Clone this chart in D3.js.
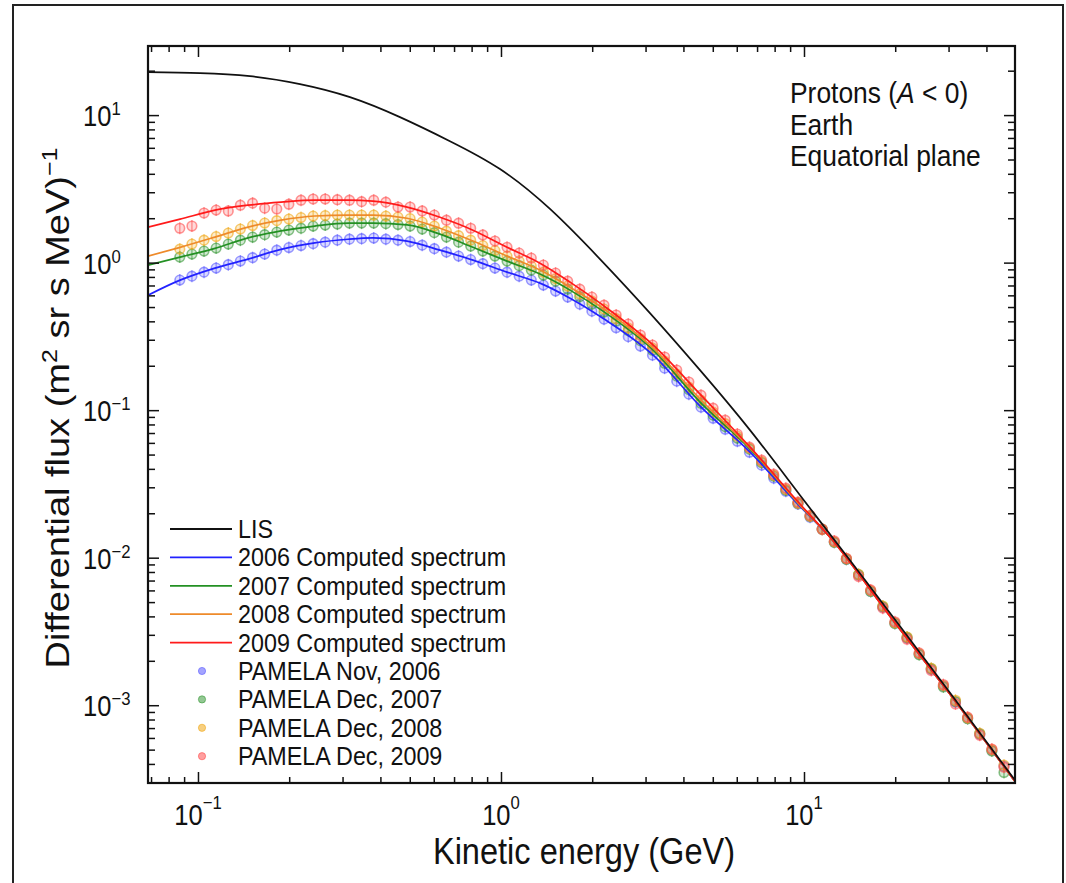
<!DOCTYPE html>
<html><head><meta charset="utf-8">
<script src="https://cdn.jsdelivr.net/npm/d3@7"></script>
<style>
body{margin:0;background:#fff}
svg{display:block}
text{font-family:"Liberation Sans",Arial,Helvetica,sans-serif;fill:#111}
</style></head><body>
<svg id="c" width="1066" height="883"></svg>
<script>
// ---------- data ----------
const lisEnergy = [0.0684,0.1015,0.1484,0.2171,0.3174,0.4641,0.6786,0.9924,1.451,2.122,3.102,4.537,6.634,9.701,14.18,20.74,30.33,49.7];
const lisFlux   = [19.56,19.26,18.38,16.23,13.24,9.69,6.66,4.31,2.31,1.056,0.4546,0.1867,0.0732,0.02652,0.009618,0.003432,0.001215,0.00031];

const specEnergy = [0.0684,0.0873,0.1138,0.1463,0.188,0.243,0.313,0.378,0.490,0.629,0.808,1.047,1.345,1.69,2.17,3.18,4.54,6.64,9.70,12.19,19.67,30.3,49.7];
const spec2006  = [0.602,0.761,0.918,1.056,1.23,1.36,1.44,1.47,1.40,1.215,1.04,0.862,0.726,0.574,0.420,0.236,0.1064,0.0519,0.0223,0.01377,0.00377,0.00119,0.000305];
const spec2007  = [0.962,1.09,1.25,1.47,1.64,1.77,1.85,1.85,1.80,1.56,1.27,1.024,0.836,0.651,0.469,0.255,0.1133,0.0544,0.0227,0.01377,0.00377,0.00119,0.000305];
const spec2008  = [1.107,1.27,1.49,1.74,1.94,2.07,2.10,2.10,2.00,1.71,1.40,1.107,0.89,0.682,0.491,0.263,0.1188,0.0552,0.0227,0.01377,0.00377,0.00119,0.000305];
const spec2009  = [1.74,1.97,2.27,2.45,2.57,2.65,2.65,2.61,2.38,2.03,1.66,1.27,0.992,0.738,0.515,0.276,0.1284,0.0561,0.0231,0.01377,0.00377,0.00119,0.000305];

const pamelaEnergy = [0.0871,0.0955,0.1047,0.1148,0.1259,0.1380,0.1514,0.1660,0.1820,0.1995,
 0.2188,0.2399,0.2630,0.2884,0.3162,0.3467,0.3802,0.4169,0.4571,0.5012,
 0.5495,0.6026,0.6607,0.7244,0.7943,0.8710,0.9550,1.047,1.148,1.259,
 1.380,1.514,1.660,1.820,1.995,2.188,2.399,2.630,2.884,3.162,
 3.467,3.802,4.169,4.571,5.012,5.495,6.026,6.607,7.244,7.943,
 8.710,9.550,10.47,11.48,12.59,13.80,15.14,16.60,18.20,19.95,
 21.88,23.99,26.30,28.84,31.62,34.67,38.02,41.69,45.71];
const pamela2006 = [0.761,0.810,0.862,0.918,0.969,1.024,1.081,1.142,1.215,1.264,
 1.304,1.345,1.377,1.420,1.443,1.454,1.466,1.443,1.420,1.388,
 1.314,1.244,1.178,1.107,1.048,0.984,0.918,0.862,0.810,0.761,
 0.704,0.641,0.584,0.523,0.469,0.414,0.362,0.315,0.272,0.236,
 0.1926,0.1573,0.1284,0.1048,0.0882,0.0743,0.0616,0.0519,0.0424,0.0346,
 0.0282,0.0231,0.0188,0.0156,0.01274,0.00977,0.00761,0.00593,0.00462,0.00360,
 0.00285,0.00222,0.00175,0.00135,0.00105,0.000816,0.000636,0.000495,0.000386];
const pamela2007 = [1.090,1.142,1.197,1.254,1.335,1.420,1.489,1.548,1.610,1.661,
 1.713,1.768,1.796,1.824,1.853,1.853,1.853,1.838,1.810,1.768,
 1.687,1.597,1.489,1.377,1.294,1.197,1.107,1.024,0.954,0.890,
 0.823,0.749,0.661,0.588,0.523,0.462,0.401,0.346,0.296,0.255,
 0.208,0.170,0.1377,0.1115,0.0925,0.0773,0.0646,0.0544,0.0441,0.0357,
 0.0287,0.0234,0.0191,0.0156,0.01270,0.00975,0.00768,0.00590,0.00466,0.00358,
 0.00288,0.00220,0.00177,0.00133,0.00106,0.000810,0.000640,0.000490,0.000350];
const pamela2008 = [1.234,1.335,1.420,1.501,1.585,1.687,1.782,1.853,1.926,1.972,
 2.019,2.067,2.083,2.099,2.099,2.099,2.099,2.067,2.035,1.988,
 1.882,1.768,1.635,1.524,1.420,1.304,1.206,1.107,1.024,0.947,
 0.862,0.779,0.693,0.612,0.548,0.484,0.417,0.360,0.305,0.263,
 0.215,0.1754,0.1432,0.1169,0.0969,0.0810,0.0666,0.0553,0.0448,0.0362,
 0.0291,0.0234,0.0191,0.0156,0.01280,0.00985,0.00770,0.00598,0.00470,0.00362,
 0.00290,0.00224,0.00178,0.00136,0.00108,0.000820,0.000645,0.000500,0.000392];
const pamela2009 = [1.71,1.77,2.17,2.27,2.24,2.45,2.53,2.34,2.31,2.49,
 2.65,2.70,2.70,2.67,2.65,2.59,2.65,2.57,2.38,2.38,
 2.24,2.10,1.94,1.85,1.71,1.54,1.40,1.27,1.16,1.073,
 0.962,0.849,0.749,0.661,0.584,0.515,0.441,0.383,0.323,0.276,
 0.229,0.187,0.155,0.1264,0.1032,0.0855,0.0688,0.0561,0.0458,0.0368,
 0.0296,0.0238,0.0194,0.0156,0.0130,0.00990,0.00745,0.00605,0.00455,0.00368,
 0.00280,0.00226,0.00172,0.00138,0.00102,0.000830,0.000625,0.000505,0.000380];

const xMajor = [0.1,1,10];
const xMinor = [0.07,0.08,0.09,0.2,0.3,0.4,0.5,0.6,0.7,0.8,0.9,2,3,4,5,6,7,8,9,20,30,40];
const yMajor = [1e-3,1e-2,1e-1,1,10];
const yMinor = [4e-4,5e-4,6e-4,7e-4,8e-4,9e-4,2e-3,3e-3,4e-3,5e-3,6e-3,7e-3,8e-3,9e-3,
  2e-2,3e-2,4e-2,5e-2,6e-2,7e-2,8e-2,9e-2,0.2,0.3,0.4,0.5,0.6,0.7,0.8,0.9,2,3,4,5,6,7,8,9,20];
const xTickExp = ["−1","0","1"];
const yTickExp = ["−3","−2","−1","0","1"];

const lineSeries = [
  {name:"LIS", e:lisEnergy, vals:lisFlux, color:"#111111", curve:d3.curveNatural},
  {name:"2006 Computed spectrum", e:specEnergy, vals:spec2006, color:"#2222ff", curve:d3.curveMonotoneX},
  {name:"2007 Computed spectrum", e:specEnergy, vals:spec2007, color:"#239023", curve:d3.curveMonotoneX},
  {name:"2008 Computed spectrum", e:specEnergy, vals:spec2008, color:"#ee8a2a", curve:d3.curveMonotoneX},
  {name:"2009 Computed spectrum", e:specEnergy, vals:spec2009, color:"#ff1a1a", curve:d3.curveMonotoneX}
];
const pointSeries = [
  {name:"PAMELA Nov, 2006", vals:pamela2006, color:"#5a5aff"},
  {name:"PAMELA Dec, 2007", vals:pamela2007, color:"#3a9a3a"},
  {name:"PAMELA Dec, 2008", vals:pamela2008, color:"#f0a818"},
  {name:"PAMELA Dec, 2009", vals:pamela2009, color:"#ff5050"}
];

// ---------- layout ----------
const svg = d3.select("#c");
const L=148, R=1015, T=46, B=783, SX=0.88;
svg.append("rect").attr("x",13).attr("y",5).attr("width",1050).attr("height",900)
  .attr("fill","none").attr("stroke","#222").attr("stroke-width",2);

const x = d3.scaleLog().domain([0.0684,49.7]).range([L,R]);
const y = d3.scaleLog().domain([2.97e-4,29.4]).range([B,T]);

svg.append("defs").append("clipPath").attr("id","clip").append("rect")
  .attr("x",L).attr("y",T).attr("width",R-L).attr("height",B-T);
const plot = svg.append("g").attr("clip-path","url(#clip)");

// points
pointSeries.forEach(s=>{
  const g = plot.append("g");
  const pts = d3.zip(pamelaEnergy, s.vals);
  g.selectAll("line").data(pts).join("line")
    .attr("x1",d=>x(d[0])).attr("x2",d=>x(d[0]))
    .attr("y1",d=>y(d[1])-6).attr("y2",d=>y(d[1])+6)
    .attr("stroke",s.color).attr("stroke-opacity",0.6).attr("stroke-width",1.3);
  g.selectAll("circle").data(pts).join("circle")
    .attr("cx",d=>x(d[0])).attr("cy",d=>y(d[1])).attr("r",4.8)
    .attr("fill",s.color).attr("fill-opacity",0.22)
    .attr("stroke",s.color).attr("stroke-opacity",0.6).attr("stroke-width",1.6);
});

// lines
[1,2,3,4,0].forEach(i=>{
  const s = lineSeries[i];
  const lineGen = d3.line().x(d=>x(d[0])).y(d=>y(d[1])).curve(s.curve);
  plot.append("path").datum(d3.zip(s.e, s.vals))
    .attr("d",lineGen).attr("fill","none").attr("stroke",s.color).attr("stroke-width",1.7);
});

// axes (inward ticks)
function addAxis(axisFn, scale, vals, size, transform){
  const a = axisFn(scale).tickValues(vals).tickSize(size).tickFormat("");
  const g = svg.append("g").attr("transform",transform).call(a);
  g.select(".domain").remove();
  g.selectAll(".tick line").attr("stroke","#111").attr("stroke-width",1.5);
}
addAxis(d3.axisBottom, x, xMajor, -11, `translate(0,${B})`);
addAxis(d3.axisBottom, x, xMinor, -6, `translate(0,${B})`);
addAxis(d3.axisTop, x, xMajor, -11, `translate(0,${T})`);
addAxis(d3.axisTop, x, xMinor, -6, `translate(0,${T})`);
addAxis(d3.axisLeft, y, yMajor, -11, `translate(${L},0)`);
addAxis(d3.axisLeft, y, yMinor, -7, `translate(${L},0)`);
addAxis(d3.axisRight, y, yMajor, -11, `translate(${R},0)`);
addAxis(d3.axisRight, y, yMinor, -7, `translate(${R},0)`);

svg.append("rect").attr("x",L).attr("y",T).attr("width",R-L).attr("height",B-T)
  .attr("fill","none").attr("stroke","#111").attr("stroke-width",2.2);

// horizontally condensed text helper
function htext(parent, px, py, size, anchor){
  return parent.append("text").attr("transform",`translate(${px},${py}) scale(${SX},1)`)
    .attr("font-size",size).attr("text-anchor",anchor||"start");
}

// tick labels
xMajor.forEach((v,i)=>{
  const t = htext(svg, x(v), 825, 29, "middle");
  t.append("tspan").text("10");
  t.append("tspan").attr("dy",-16).attr("font-size",19).text(xTickExp[i]);
});
yMajor.forEach((v,i)=>{
  const t = htext(svg, 83, y(v)+11, 29, "start");
  t.append("tspan").text("10");
  t.append("tspan").attr("dy",-11).attr("font-size",19).text(yTickExp[i]);
});

// axis titles
htext(svg, 584, 864, 37, "middle").text("Kinetic energy (GeV)");
const yt = svg.append("text").attr("transform",`translate(69,408) scale(${SX},1) rotate(-90)`)
  .attr("text-anchor","middle").attr("font-size",38);
yt.append("tspan").text("Differential flux (m");
yt.append("tspan").attr("dy",-14).attr("font-size",25).text("2");
yt.append("tspan").attr("dy",14).text(" sr s MeV)");
yt.append("tspan").attr("dy",-14).attr("font-size",25).text("−1");

// annotation
const a1 = htext(svg, 790, 103, 30);
a1.append("tspan").text("Protons (");
a1.append("tspan").attr("font-style","italic").text("A");
a1.append("tspan").text(" < 0)");
htext(svg, 790, 135, 30).text("Earth");
htext(svg, 790, 166, 30).text("Equatorial plane");

// legend
const lg = svg.append("g");
const rowH = 28.4, row0 = 529;
lineSeries.forEach((s,i)=>{
  const cy = row0 + i*rowH;
  lg.append("line").attr("x1",170).attr("x2",232).attr("y1",cy).attr("y2",cy)
    .attr("stroke",s.color).attr("stroke-width",1.8);
  htext(lg, 238, cy+9, 26.5).text(s.name);
});
pointSeries.forEach((s,i)=>{
  const cy = row0 + (i+5)*rowH;
  lg.append("circle").attr("cx",202).attr("cy",cy).attr("r",3.6)
    .attr("fill",s.color).attr("fill-opacity",0.55).attr("stroke",s.color).attr("stroke-opacity",0.6);
  htext(lg, 238, cy+9, 26.5).text(s.name);
});
</script></body></html>
